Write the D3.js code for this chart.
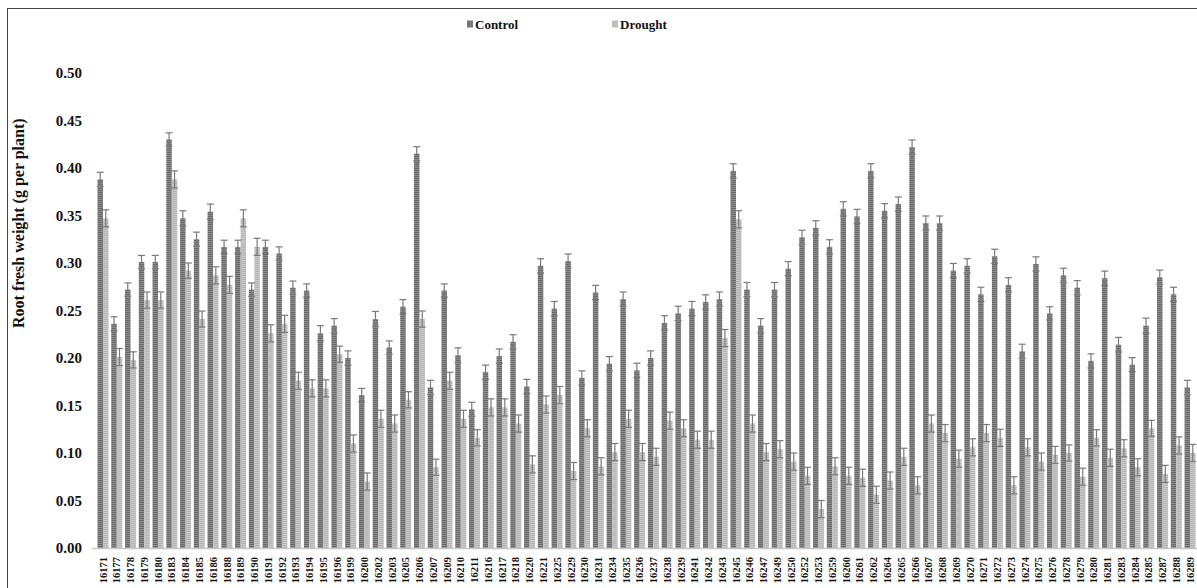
<!DOCTYPE html>
<html>
<head>
<meta charset="utf-8">
<script src="https://cdn.jsdelivr.net/npm/d3@7"></script>
<style>
  html, body { margin: 0; padding: 0; background: #fff; }
  svg { display: block; }
</style>
</head>
<body>
<svg id="chart" width="1197" height="588"></svg>
<script>
// Accessions
const accessions = [
  "16171","16177","16178","16179","16180","16183","16184","16185","16186","16188",
  "16189","16190","16191","16192","16193","16194","16195","16196","16199","16200",
  "16202","16203","16205","16206","16207","16209","16210","16211","16216","16217",
  "16218","16220","16221","16225","16229","16230","16231","16234","16235","16236",
  "16237","16238","16239","16241","16242","16243","16245","16246","16247","16249",
  "16250","16252","16253","16259","16260","16261","16262","16264","16265","16266",
  "16267","16268","16269","16270","16271","16272","16273","16274","16275","16276",
  "16278","16279","16280","16281","16283","16284","16285","16287","16288","16289","16290"
];

// Root fresh weight (g per plant), mean of each accession
const control = [
  0.388,0.236,0.272,0.301,0.301,0.430,0.347,0.325,0.354,0.317,
  0.317,0.272,0.317,0.310,0.274,0.271,0.226,0.234,0.200,0.161,
  0.241,0.211,0.254,0.415,0.169,0.271,0.203,0.146,0.185,0.202,
  0.217,0.170,0.297,0.252,0.302,0.179,0.269,0.194,0.262,0.187,
  0.200,0.237,0.247,0.252,0.259,0.262,0.397,0.272,0.234,0.272,
  0.294,0.327,0.337,0.317,0.357,0.349,0.397,0.355,0.362,0.422,
  0.342,0.342,0.292,0.297,0.267,0.307,0.277,0.207,0.299,0.247,
  0.287,0.274,0.197,0.284,0.214,0.193,0.234,0.285,0.267,0.169,0.180
];
const drought = [
  0.347,0.201,0.198,0.261,0.261,0.388,0.292,0.241,0.287,0.277,
  0.347,0.317,0.226,0.236,0.176,0.168,0.168,0.204,0.110,0.070,
  0.136,0.131,0.156,0.241,0.085,0.176,0.136,0.116,0.148,0.148,
  0.131,0.088,0.151,0.161,0.081,0.126,0.086,0.101,0.136,0.101,
  0.096,0.134,0.126,0.114,0.114,0.221,0.346,0.131,0.101,0.104,
  0.091,0.076,0.041,0.086,0.076,0.074,0.056,0.071,0.096,0.066,
  0.131,0.121,0.094,0.106,0.121,0.116,0.066,0.106,0.091,0.098,
  0.100,0.075,0.116,0.095,0.105,0.085,0.126,0.078,0.108,0.100,0.110
];
// Standard errors
const controlErr = [
  0.0075,0.0074,0.007,0.007,0.007,0.007,0.008,0.0075,0.008,0.007,
  0.007,0.007,0.007,0.007,0.007,0.007,0.008,0.0075,0.0075,0.007,
  0.008,0.007,0.0075,0.0074,0.0075,0.007,0.0077,0.0074,0.0075,0.0075,
  0.0075,0.0075,0.0075,0.0075,0.0075,0.0075,0.0075,0.0075,0.0075,0.0075,
  0.0075,0.0075,0.0075,0.0075,0.0075,0.0075,0.0075,0.0075,0.0075,0.0075,
  0.0075,0.0075,0.0075,0.0075,0.0075,0.0075,0.0075,0.0075,0.0075,0.0075,
  0.0075,0.0075,0.0075,0.0075,0.0075,0.0075,0.0075,0.0075,0.0075,0.007,
  0.0075,0.0075,0.0074,0.0075,0.0077,0.0074,0.008,0.0075,0.0075,0.0075,0.0075
];
const droughtErr = [
  0.009,0.009,0.0085,0.0085,0.0085,0.009,0.008,0.0084,0.009,0.009,
  0.009,0.009,0.009,0.009,0.009,0.009,0.009,0.0085,0.009,0.009,
  0.009,0.009,0.0085,0.0085,0.0085,0.009,0.009,0.0085,0.009,0.009,
  0.009,0.009,0.009,0.009,0.009,0.009,0.009,0.009,0.009,0.009,
  0.009,0.009,0.009,0.009,0.009,0.009,0.009,0.009,0.009,0.009,
  0.009,0.009,0.009,0.009,0.009,0.009,0.009,0.009,0.009,0.009,
  0.009,0.009,0.009,0.009,0.009,0.009,0.009,0.009,0.009,0.009,
  0.0085,0.009,0.0085,0.009,0.009,0.009,0.0084,0.009,0.009,0.009,0.009
];

const yTicks = [0, 0.05, 0.10, 0.15, 0.20, 0.25, 0.30, 0.35, 0.40, 0.45, 0.50];
const seriesNames = ["Control", "Drought"];

const svg = d3.select("#chart");
const W = 1197, H = 588;
const FONT = '"Liberation Serif"';

// horizontally striped fills for the two series
const defs = svg.append("defs");
function stripes(id, base, line) {
  const p = defs.append("pattern").attr("id", id)
    .attr("patternUnits", "userSpaceOnUse").attr("width", 4).attr("height", 2);
  p.append("rect").attr("width", 4).attr("height", 2).attr("fill", base);
  p.append("rect").attr("y", 1).attr("width", 4).attr("height", 1).attr("fill", line);
}
stripes("pCtrl", "#6a6a6a", "#8c8c8c");
stripes("pDrt", "#c9c9c9", "#b4b4b4");
const fills = ["url(#pCtrl)", "url(#pDrt)"];
const swatch = ["#777", "#c0c0c0"];

// outer frame
svg.append("rect").attr("x", 7.5).attr("y", 8.5).attr("width", W).attr("height", H)
  .attr("fill", "none").attr("stroke", "#444").attr("stroke-width", 1);

const step = 13.76;
const x0 = 103 - step / 2;
const x = d3.scaleBand().domain(accessions)
  .range([x0, x0 + step * accessions.length]).paddingInner(0.2).paddingOuter(0.1);
const xs = d3.scaleBand().domain(seriesNames).range([0, x.bandwidth()]);
const y = d3.scaleLinear().domain([0, 0.5]).range([548, 73]);

function styleText(sel, size) {
  sel.style("font-family", FONT).style("font-weight", "bold")
    .style("font-size", size + "px").attr("fill", "#111");
}

// y axis
const yAxis = svg.append("g").attr("transform", "translate(82,0)")
  .call(d3.axisLeft(y).tickValues(yTicks).tickFormat(d3.format(".2f")).tickSize(0).tickPadding(0));
yAxis.select(".domain").remove();
styleText(yAxis.selectAll("text"), 15);

styleText(svg.append("text")
  .attr("transform", "translate(24,328) rotate(-90)")
  .attr("text-anchor", "start")
  .text("Root fresh weight (g per plant)"), 16);

// bars
const rows = accessions.map((a, i) => ({ a, v: [control[i], drought[i]], e: [controlErr[i], droughtErr[i]] }));
const groups = svg.append("g").selectAll("g").data(rows).join("g")
  .attr("transform", d => `translate(${x(d.a)},0)`);

seriesNames.forEach((s, k) => {
  groups.append("rect")
    .attr("x", xs(s)).attr("width", xs.bandwidth())
    .attr("y", d => y(d.v[k])).attr("height", d => y(0) - y(d.v[k]))
    .attr("fill", fills[k]);
});

// error bars
seriesNames.forEach((s, k) => {
  const cx = xs(s) + xs.bandwidth() / 2;
  const eb = groups.append("g").attr("stroke", "#7a7a7a").attr("stroke-width", 1.2);
  eb.append("line").attr("x1", cx).attr("x2", cx)
    .attr("y1", d => y(d.v[k] + d.e[k])).attr("y2", d => y(d.v[k] - d.e[k]));
  eb.append("line").attr("x1", cx - 3.5).attr("x2", cx + 3.5)
    .attr("y1", d => y(d.v[k] + d.e[k])).attr("y2", d => y(d.v[k] + d.e[k]));
  eb.append("line").attr("x1", cx - 3.5).attr("x2", cx + 3.5)
    .attr("y1", d => y(d.v[k] - d.e[k])).attr("y2", d => y(d.v[k] - d.e[k]));
});

// baseline
svg.append("line").attr("x1", 92).attr("x2", W).attr("y1", y(0) + 0.5).attr("y2", y(0) + 0.5)
  .attr("stroke", "#c8c8c8").attr("stroke-width", 1.5);

// x labels
const xAxis = svg.append("g").attr("transform", `translate(0,${y(0)})`)
  .call(d3.axisBottom(x).tickSize(0).tickPadding(0));
xAxis.select(".domain").remove();
styleText(xAxis.selectAll("text")
  .attr("transform", "rotate(-90)")
  .attr("x", -9).attr("y", 0).attr("dy", "0.35em")
  .attr("text-anchor", "end"), 10.5);

// legend
const legend = svg.append("g").attr("transform", "translate(467,24)");
const lx = [0, 145];
seriesNames.forEach((s, k) => {
  legend.append("rect").attr("x", lx[k]).attr("y", -3.5).attr("width", 6).attr("height", 7).attr("fill", swatch[k]);
  styleText(legend.append("text").attr("x", lx[k] + 8).attr("y", 0).attr("dy", "0.35em").text(s), 13);
});
</script>
</body>
</html>
